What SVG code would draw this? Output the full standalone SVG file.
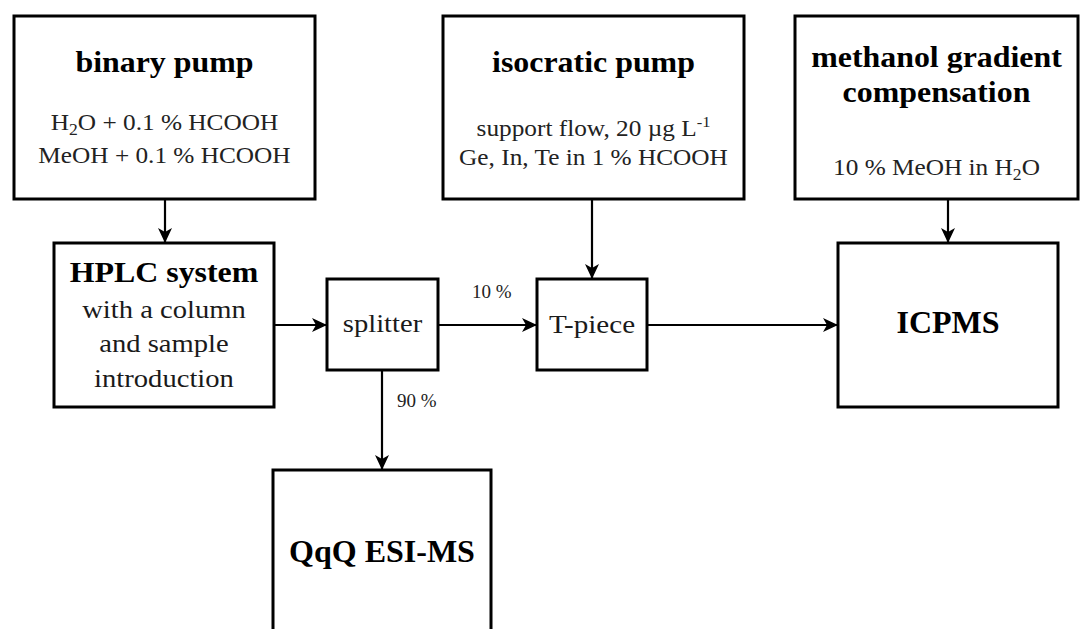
<svg xmlns="http://www.w3.org/2000/svg" width="1086" height="629" viewBox="0 0 1086 629">
  <style>
    .box { fill: #fff; stroke: #000; stroke-width: 3; }
    text { font-family: "Liberation Serif", "Times New Roman", serif; text-anchor: middle; }
    .title { font-weight: bold; font-size: 29px; fill: #000; }
    .big { font-weight: bold; font-size: 32px; fill: #000; }
    .body { font-size: 23px; fill: #222; }
    .unit { font-size: 26px; fill: #1a1a1a; }
    .pct { font-size: 19px; fill: #222; text-anchor: start; }
    .flow { fill: none; stroke: #000; stroke-width: 2.2; marker-end: url(#arrow); }
  </style>
  <defs>
    <marker id="arrow" markerUnits="userSpaceOnUse" markerWidth="16" markerHeight="14" refX="15" refY="7" orient="auto">
      <path d="M0,0 L15,7 L0,14 L4,7 Z" fill="#000"/>
    </marker>
  </defs>

  <g id="connectors">
    <line class="flow" x1="165" y1="199" x2="165" y2="243"/>
    <line class="flow" x1="592" y1="199" x2="592" y2="279"/>
    <line class="flow" x1="948" y1="199" x2="948" y2="243"/>
    <line class="flow" x1="274" y1="325" x2="327" y2="325"/>
    <line class="flow" x1="438" y1="325" x2="537" y2="325"/>
    <line class="flow" x1="647" y1="325" x2="838" y2="325"/>
    <line class="flow" x1="382" y1="370" x2="382" y2="470"/>
    <text class="pct" x="472" y="298">10 %</text>
    <text class="pct" x="397" y="407">90 %</text>
  </g>

  <!-- labels in the upper boxes are set slightly wide: scale(1.1 1) about the box centre -->
  <g id="binary-pump">
    <rect class="box" x="14" y="16" width="301" height="183"/>
    <g transform="translate(164.5 0) scale(1.1 1)">
      <text class="title" x="0" y="72">binary pump</text>
      <text class="body" x="0" y="130">H<tspan font-size="16" dy="5">2</tspan><tspan dy="-5">O + 0.1 % HCOOH</tspan></text>
      <text class="body" x="0" y="163">MeOH + 0.1 % HCOOH</text>
    </g>
  </g>

  <g id="isocratic-pump">
    <rect class="box" x="443" y="16" width="301" height="183"/>
    <g transform="translate(593.5 0) scale(1.1 1)">
      <text class="title" x="0" y="72">isocratic pump</text>
      <text class="body" x="0" y="136">support flow, 20 µg L<tspan font-size="15" dy="-9">-1</tspan></text>
      <text class="body" x="0" y="165">Ge, In, Te in 1 % HCOOH</text>
    </g>
  </g>

  <g id="methanol-compensation">
    <rect class="box" x="795" y="16" width="283" height="183"/>
    <g transform="translate(936.5 0) scale(1.1 1)">
      <text class="title" x="0" y="67">methanol gradient</text>
      <text class="title" x="0" y="102">compensation</text>
      <text class="body" x="0" y="175">10 % MeOH in H<tspan font-size="16" dy="5">2</tspan><tspan dy="-5">O</tspan></text>
    </g>
  </g>

  <g id="hplc-system">
    <rect class="box" x="54" y="243" width="220" height="164"/>
    <g transform="translate(164 0) scale(1.1 1)">
      <text class="title" x="0" y="282">HPLC system</text>
      <text class="unit" x="0" y="318">with a column</text>
      <text class="unit" x="0" y="352">and sample</text>
      <text class="unit" x="0" y="387">introduction</text>
    </g>
  </g>

  <g id="splitter">
    <rect class="box" x="327" y="279" width="111" height="91"/>
    <text class="unit" transform="translate(382.5 332) scale(1.1 1)" x="0" y="0">splitter</text>
  </g>

  <g id="t-piece">
    <rect class="box" x="537" y="279" width="110" height="91"/>
    <text class="unit" transform="translate(592 333) scale(1.12 1)" x="0" y="0">T-piece</text>
  </g>

  <g id="icpms">
    <rect class="box" x="838" y="243" width="220" height="164"/>
    <text class="big" x="948" y="333">ICPMS</text>
  </g>

  <g id="qqq-esi-ms">
    <rect class="box" x="273" y="470" width="218" height="175"/>
    <text class="big" x="382" y="562">QqQ ESI-MS</text>
  </g>
</svg>
